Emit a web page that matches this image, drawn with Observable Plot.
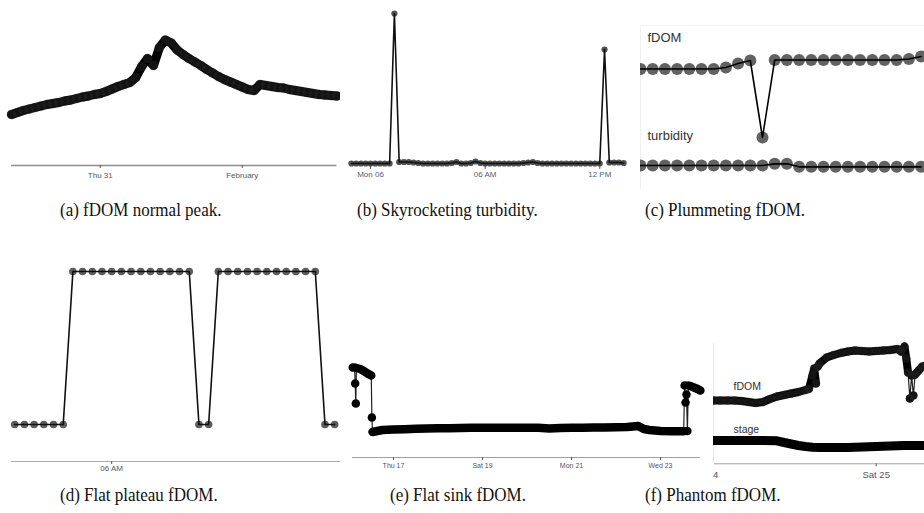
<!DOCTYPE html>
<html><head><meta charset="utf-8">
<script src="https://cdn.jsdelivr.net/npm/d3@7"></script>
<script src="https://cdn.jsdelivr.net/npm/@observablehq/plot@0.6"></script>
<style>
html,body{margin:0;padding:0;background:#fff;}
#fig{position:relative;width:924px;height:513px;overflow:hidden;background:#fff;}
.panel{position:absolute;overflow:hidden;}
.cap{position:absolute;font-family:"Liberation Serif","Times New Roman",serif;font-size:17px;line-height:20px;color:#111;white-space:nowrap;transform:scaleY(1.15);transform-origin:left center;}
</style></head><body><div id="fig"></div>
<script>
// ---------- (a) fDOM normal peak: hourly fDOM ----------
const aStart = "2019-01-30T09:00Z", aEnd = "2019-02-01T16:00Z";
const aFdom = [51,53,55,56.5,58,59.5,61,62,63,64.5,65.5,67,68.5,69.5,71,72,74,76.5,79,81,83,88,99,107,100,118,125.5,122.5,115.5,111,107,103.5,100,96,92.5,89,86,83.5,81,78.5,76,75,81,80,79,78,77.5,76,75,74,73,72,71,70.5,70,69.5];
const aTicks = ["2019-01-31T00:00Z","2019-02-01T00:00Z"];
const aTickLabels = ["Thu 31","February"];

// ---------- (b) Skyrocketing turbidity: 15-min turbidity ----------
const bStart = "2019-05-05T23:00Z", bLast = "2019-05-06T13:15Z";
const bTurb = [2,2,2,2,2,2,2,2,2,152,3.5,3.5,3.5,3,2.5,2,2,2,2,2,2,2.5,3.5,2,2,2.5,4,2.5,2,2,2,2,2,2,2,2,2.5,3,3.5,2.5,2,2,2,2,2,2,2,2,2,2,2,2,2,116,3,3,3,2.5];
const bTicks = ["2019-05-06T00:00Z","2019-05-06T06:00Z","2019-05-06T12:00Z"];
const bTickLabels = ["Mon 06","06 AM","12 PM"];

// ---------- (c) Plummeting fDOM: sample index ----------
const cFdom = [76.5,76.5,76.5,76.5,76.5,76.5,76.5,78,82,85,8,85.5,85.5,85.5,85.5,85.5,85.5,85.5,85.5,85.5,85.5,85.5,86.5,89];
const cTurb = [3,3,3,3,3,3,3,3,3,3,3,3.25,3.25,2.8,2.8,2.8,2.8,2.8,2.8,2.8,2.8,2.8,2.8,2.8];
const cLabels = ["fDOM","turbidity"];

// ---------- (d) Flat plateau fDOM: 15-min fDOM ----------
const dStart = "2018-06-12T03:25Z", dLast = "2018-06-12T11:55Z";
const dFdom = [37,37,37,37,37,37,190,190,190,190,190,190,190,190,190,190,190,190,190,37,37,190,190,190,190,190,190,190,190,190,190,190,37,37,37];
const dTicks = ["2018-06-12T06:00Z"];
const dTickLabels = ["06 AM"];

// ---------- (e) Flat sink fDOM ----------
const eTimes = ["2019-01-16T02:00Z","2019-01-16T03:00Z","2019-01-16T03:20Z","2019-01-16T03:40Z","2019-01-16T04:00Z","2019-01-16T05:00Z","2019-01-16T06:00Z","2019-01-16T08:00Z","2019-01-16T10:00Z","2019-01-16T12:00Z","2019-01-16T12:20Z","2019-01-16T12:40Z","2019-01-16T18:00Z",
"2019-01-17T00:00Z","2019-01-17T06:00Z","2019-01-17T12:00Z","2019-01-17T18:00Z","2019-01-18T00:00Z","2019-01-18T06:00Z","2019-01-18T12:00Z","2019-01-18T18:00Z","2019-01-19T00:00Z","2019-01-19T06:00Z","2019-01-19T12:00Z","2019-01-19T18:00Z","2019-01-20T00:00Z","2019-01-20T06:00Z","2019-01-20T12:00Z","2019-01-20T18:00Z","2019-01-21T00:00Z","2019-01-21T06:00Z","2019-01-21T12:00Z","2019-01-21T18:00Z","2019-01-22T00:00Z","2019-01-22T06:00Z","2019-01-22T12:00Z","2019-01-22T15:00Z","2019-01-22T18:00Z",
"2019-01-23T00:00Z","2019-01-23T06:00Z","2019-01-23T12:00Z","2019-01-23T12:30Z","2019-01-23T13:00Z","2019-01-23T13:30Z","2019-01-23T14:00Z","2019-01-23T14:30Z","2019-01-23T15:00Z","2019-01-23T16:00Z","2019-01-23T18:00Z","2019-01-23T20:00Z","2019-01-23T21:30Z"];
const eFdom = [90,90,74,54,89.5,89,88.5,86.5,84,82,40,25.5,27.5,28,28.3,28.7,29,29.2,29.3,29.5,29.7,29.7,29.7,29.8,29.8,29.7,29.7,29,29.5,29.7,29.8,30,30,30.2,30.4,31.5,28.5,27.5,26.5,26.3,26.3,26.3,72,55,63,26.5,72,71.5,70,68.5,67];
const eTicks = ["2019-01-17T00:00Z","2019-01-19T00:00Z","2019-01-21T00:00Z","2019-01-23T00:00Z"];
const eTickLabels = ["Thu 17","Sat 19","Mon 21","Wed 23"];

// ---------- (f) Phantom fDOM: hours after 2019-05-24 00:00 ----------
const fBase = "2019-05-24T00:00Z";
const fHours = [1,2,3,4,5,6,7,8,9,10,11,12,13,14,14.5,15,15.25,15.5,15.75,16,17,18,19,20,21,22,23,24,25,26,27,27.5,28,28.25,28.5,28.75,29,29.25,29.5,30,30.5,31];
const fFdom = [40,40,40,40,39.5,38.5,37.5,38.5,41.5,44,45.5,47,48.5,50.5,51.5,65,72,57,74,77,83,85.5,87.5,89,90,89.5,89,89.5,90,90.5,91.5,89,94,82,68,42,65,45,66,70,74,75];
const fStageHours = [1,4,7,10,11,12,13,14,15,16,18,20,22,24,26,28,31];
const fStage = [1.20,1.20,1.20,1.197,1.18,1.165,1.15,1.14,1.133,1.13,1.13,1.13,1.135,1.14,1.145,1.15,1.15];
const fTicks = ["2019-05-24T00:00Z","2019-05-25T00:00Z"];
const fTickLabels = ["Fri 24","Sat 25"];
const fLabels = ["fDOM","stage"];

const captions = ["(a) fDOM normal peak.","(b) Skyrocketing turbidity.","(c) Plummeting fDOM.","(d) Flat plateau fDOM.","(e) Flat sink fDOM.","(f) Phantom fDOM."];

// ---------- helpers ----------
const SANS = "Liberation Sans, Arial, Helvetica, sans-serif";
const NARROW = "Liberation Sans Narrow, Arial Narrow, Liberation Sans, sans-serif";
const ST = {background: "transparent", overflow: "visible"};
const fig = document.getElementById("fig");
function place(node, left, top, w, h, extra) {
  const d = document.createElement("div");
  d.className = "panel";
  Object.assign(d.style, {left: left + "px", top: top + "px", width: w + "px", height: h + "px"}, extra || {});
  if (node) d.appendChild(node);
  fig.appendChild(d);
  return d;
}
const D = s => new Date(s);
function labelFmt(ticks, labels) {
  const m = new Map(ticks.map((t, i) => [+D(t), labels[i]]));
  return d => m.get(+d) ?? "";
}
function segs(rows, thr) {
  let s = 0;
  return rows.map((r, i) => { if (i > 0 && Math.abs(r.v - rows[i - 1].v) > thr) s++; return {...r, s}; });
}
const HOUR = 3600e3;

// ---------- (a) ----------
const aRows = d3.utcHour.range(D(aStart), new Date(+D(aEnd) + 1)).map((t, i) => ({t, v: aFdom[i]}));
place(Plot.plot({
  width: 340, height: 190, marginLeft: 11, marginRight: 3.6, marginTop: 25, marginBottom: 25,
  x: {type: "utc", domain: [D(aStart), D(aEnd)]},
  y: {domain: [0, 140], axis: null},
  style: ST,
  marks: [
    Plot.ruleY([0], {stroke: "#8c8c8c", strokeWidth: 1.5}),
    Plot.axisX(aTicks.map(D), {label: null, tickFormat: labelFmt(aTicks, aTickLabels), tickSize: 3, tickPadding: 4, fontSize: 8, fontFamily: SANS, color: "#555"}),
    Plot.line(aRows, {x: "t", y: "v", stroke: "#000", strokeWidth: 9, strokeLinejoin: "round", strokeLinecap: "round"}),
    Plot.dot(aRows, {x: "t", y: "v", r: 4.8, fill: "#222", fillOpacity: 0.55})
  ]
}), 0, 0, 340, 190);

// ---------- (b) ----------
const bRows = d3.utcMinute.every(15).range(D(bStart), new Date(+D(bLast) + 1)).map((t, i) => ({t, v: bTurb[i]}));
place(Plot.plot({
  width: 290, height: 190, marginLeft: 9, marginRight: 4, marginTop: 5, marginBottom: 25,
  x: {type: "utc", domain: [D("2019-05-05T22:54Z"), D("2019-05-06T13:24Z")]},
  y: {domain: [0, 160], axis: null},
  style: ST,
  marks: [
    Plot.axisX(bTicks.map(D), {label: null, tickFormat: labelFmt(bTicks, bTickLabels), tickSize: 4, tickPadding: 2, fontSize: 8, fontFamily: SANS, color: "#55606e"}),
    Plot.dot(bRows, {x: "t", y: "v", r: 3.1, fill: "#333", fillOpacity: 0.85}),
    Plot.line(bRows, {x: "t", y: "v", stroke: "#111", strokeWidth: 1.6})
  ]
}), 340, 0, 290, 190);

// ---------- (c) ----------
place(null, 640, 25, 283, 164, {borderLeft: "1px solid #f1f1f1", borderTop: "1px solid #f3f3f3"});
const cF = cFdom.map((v, i) => ({i, v}));
const cT = cTurb.map((v, i) => ({i, v}));
place(Plot.plot({
  width: 284, height: 120, marginLeft: 0, marginRight: 0, marginTop: 0, marginBottom: 0,
  x: {domain: [0, 23.28], axis: null},
  y: {domain: [0, 120], axis: null},
  style: ST,
  marks: [
    Plot.dot(cF, {x: "i", y: "v", r: 6, fill: "#555", fillOpacity: 0.92}),
    Plot.line(cF, {x: "i", y: "v", stroke: "#000", strokeWidth: 1.6}),
    Plot.text([cLabels[0]], {text: d => d, frameAnchor: "top-left", dx: 7, dy: 7, lineAnchor: "top", textAnchor: "start", fontSize: 13, fontFamily: SANS, fill: "#333"})
  ]
}), 640, 25, 284, 120);
place(Plot.plot({
  width: 284, height: 65, marginLeft: 0, marginRight: 0, marginTop: 0, marginBottom: 0,
  x: {domain: [0, 23.28], axis: null},
  y: {domain: [0, 6], range: [60, 20], axis: null},
  style: ST,
  marks: [
    Plot.dot(cT, {x: "i", y: "v", r: 6, fill: "#555", fillOpacity: 0.92}),
    Plot.line(cT, {x: "i", y: "v", stroke: "#000", strokeWidth: 1.6}),
    Plot.text([cLabels[1]], {text: d => d, frameAnchor: "top-left", dx: 7, dy: 5, lineAnchor: "top", textAnchor: "start", fontSize: 13, fontFamily: SANS, fill: "#333"})
  ]
}), 640, 125, 284, 65);

// ---------- (d) ----------
const dRows = d3.utcMinute.every(15).range(D(dStart), new Date(+D(dLast) + 1)).map((t, i) => ({t, v: dFdom[i]}));
place(Plot.plot({
  width: 340, height: 235, marginLeft: 11, marginRight: 0, marginTop: 0, marginBottom: 24,
  x: {type: "utc", domain: [D(dStart), D("2018-06-12T11:54Z")]},
  y: {domain: [0, 211], axis: null},
  style: ST,
  marks: [
    Plot.ruleY([0], {stroke: "#aaaaaa", strokeWidth: 1}),
    Plot.axisX(dTicks.map(D), {label: null, tickFormat: labelFmt(dTicks, dTickLabels), tickSize: 3, tickPadding: 1, fontSize: 8, fontFamily: SANS, color: "#556"}),
    Plot.dot(dRows, {x: "t", y: "v", r: 3.8, fill: "#333", fillOpacity: 0.8}),
    Plot.line(dRows, {x: "t", y: "v", stroke: "#111", strokeWidth: 1.6})
  ]
}), 0, 250, 340, 225);

// ---------- (e) ----------
const eRows = segs(eTimes.map((t, i) => ({t: D(t), v: eFdom[i]})), 6);
place(Plot.plot({
  width: 365, height: 140, marginLeft: 12, marginRight: 5, marginTop: 0, marginBottom: 23,
  x: {type: "utc", domain: [D("2019-01-16T01:53Z"), D("2019-01-23T21:34Z")]},
  y: {domain: [0, 117], axis: null},
  style: ST,
  marks: [
    Plot.ruleY([0], {stroke: "#a0a0a0", strokeWidth: 1}),
    Plot.axisX(eTicks.map(D), {label: null, tickFormat: labelFmt(eTicks, eTickLabels), tickSize: 3, tickPadding: 3, fontSize: 7, fontFamily: NARROW, color: "#556"}),
    Plot.line(eRows, {x: "t", y: "v", stroke: "#222", strokeWidth: 1.2}),
    Plot.dot(eRows, {x: "t", y: "v", r: 3.6, fill: "#333", fillOpacity: 0.85}),
    Plot.line(eRows, {x: "t", y: "v", z: "s", stroke: "#000", strokeWidth: 8.5, strokeLinecap: "round", strokeLinejoin: "round"})
  ]
}), 340, 340, 365, 140);

// ---------- (f) ----------
const fb = +D(fBase);
const fRows = segs(fHours.map((h, i) => ({t: new Date(fb + h * HOUR), v: fFdom[i]})), 15);
const sRows = fStageHours.map((h, i) => ({t: new Date(fb + h * HOUR), v: fStage[i]}));
const fDomain = [new Date(fb + 1.17 * HOUR), new Date(fb + 30.82 * HOUR)];
place(null, 713, 343, 1, 120, {background: "#e8e8e8"});
place(Plot.plot({
  width: 211, height: 90, marginLeft: 1, marginRight: 0, marginTop: 0, marginBottom: 0,
  x: {type: "utc", domain: fDomain, axis: null},
  y: {domain: [20, 110], axis: null},
  style: ST,
  marks: [
    Plot.line(fRows, {x: "t", y: "v", stroke: "#222", strokeWidth: 1.2}),
    Plot.line(fRows, {x: "t", y: "v", z: "s", stroke: "#000", strokeWidth: 8, strokeLinecap: "round", strokeLinejoin: "round"}),
    Plot.dot(fRows, {x: "t", y: "v", r: 4.3, fill: "#222", fillOpacity: 0.6}),
    Plot.text([fLabels[0]], {text: d => d, frameAnchor: "top-left", dx: 19, dy: 52, lineAnchor: "top", textAnchor: "start", fontSize: 10.5, fontFamily: SANS, fill: "#333"})
  ]
}), 713, 330, 211, 90);
place(Plot.plot({
  width: 211, height: 60, marginLeft: 1, marginRight: 0, marginTop: 0, marginBottom: 16.7,
  x: {type: "utc", domain: fDomain},
  y: {domain: [0.967, 1.4], axis: null},
  style: ST,
  marks: [
    Plot.ruleY([0.967], {stroke: "#a0a0a0", strokeWidth: 1}),
    Plot.axisX(fTicks.map(D), {label: null, tickFormat: labelFmt(fTicks, fTickLabels), tickSize: 3, tickPadding: 4, fontSize: 9.5, fontFamily: SANS, color: "#556"}),
    Plot.line(sRows, {x: "t", y: "v", stroke: "#000", strokeWidth: 9, strokeLinecap: "round", strokeLinejoin: "round"}),
    Plot.text([fLabels[1]], {text: d => d, frameAnchor: "top-left", dx: 19, dy: 5, lineAnchor: "top", textAnchor: "start", fontSize: 10.5, fontFamily: SANS, fill: "#333"})
  ]
}), 713, 420, 211, 60);

// ---------- captions ----------
const capPos = [[60, 200], [357, 200], [645, 200], [60, 485], [390, 485], [645, 485]];
captions.forEach((c, i) => {
  const s = document.createElement("div");
  s.className = "cap";
  s.textContent = c;
  s.style.left = capPos[i][0] + "px";
  s.style.top = capPos[i][1] + "px";
  fig.appendChild(s);
});
</script></body></html>
